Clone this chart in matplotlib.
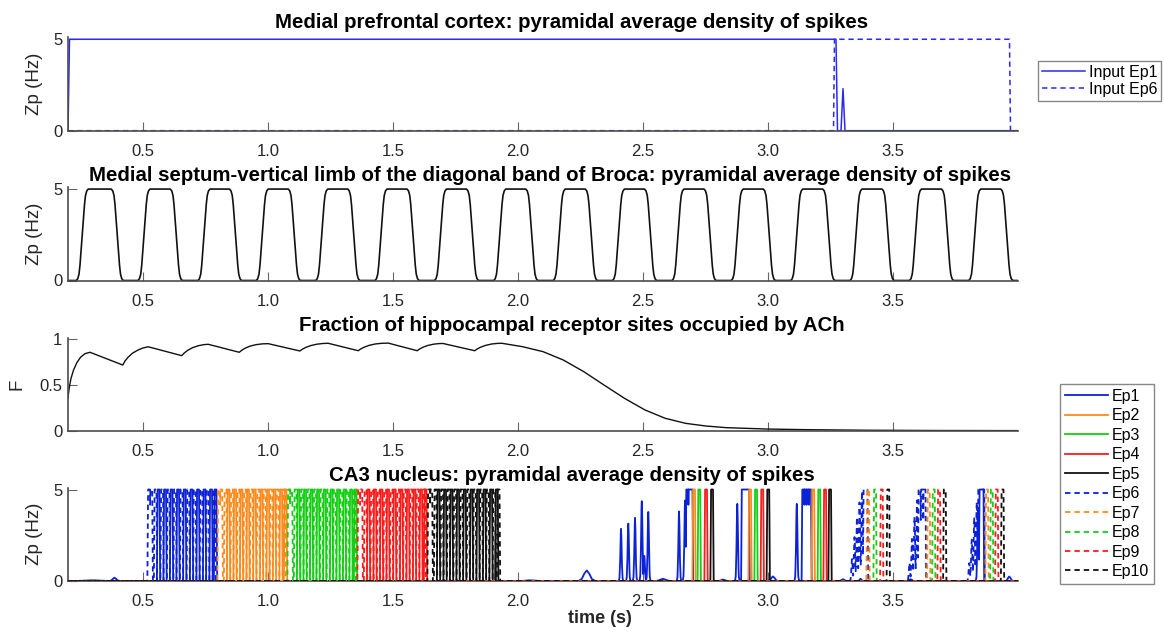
import numpy as np
import matplotlib
matplotlib.use("Agg")
import matplotlib.pyplot as plt

plt.rcParams['font.family'] = ['Liberation Sans', 'DejaVu Sans']

# ------------------------------------------------------------------ data
XLIM = (0.2, 4.0)
XTICKS = [0.5, 1.0, 1.5, 2.0, 2.5, 3.0, 3.5]
XTICKLABELS = ['0.5', '1.0', '1.5', '2.0', '2.5', '3.0', '3.5']

TITLES = [
    'Medial prefrontal cortex: pyramidal average density of spikes',
    'Medial septum-vertical limb of the diagonal band of Broca: pyramidal average density of spikes',
    'Fraction of hippocampal receptor sites occupied by ACh',
    'CA3 nucleus: pyramidal average density of spikes',
]

# panel 1 : mPFC input
input_ep1_t = [0.200, 0.206, 3.272, 3.278, 3.292, 3.300, 3.308, 4.000]
input_ep1_z = [0.0, 5.0, 5.0, 0.0, 0.0, 2.3, 0.0, 0.0]
input_ep6_t = [0.200, 3.262, 3.266, 3.966, 3.970, 4.000]
input_ep6_z = [0.0, 0.0, 5.0, 5.0, 0.0, 0.0]

# panel 2 : septum pulses (rise / fall times, amplitude)
septum_rise = [0.257, 0.504, 0.744, 0.977, 1.215, 1.452, 1.690, 1.927,
               2.165, 2.402, 2.640, 2.877, 3.115, 3.352, 3.590, 3.827]
septum_fall = [0.397, 0.633, 0.870, 1.105, 1.343, 1.580, 1.818, 2.055,
               2.293, 2.530, 2.768, 3.005, 3.243, 3.480, 3.718, 3.955]
septum_amp = 5.0

# panel 3 : ACh occupancy
ach_t = [0.200, 0.205, 0.212, 0.222, 0.235, 0.250, 0.268, 0.288,
         0.419, 0.428, 0.440, 0.458, 0.480, 0.500, 0.521,
         0.655, 0.664, 0.678, 0.698, 0.722, 0.745, 0.761,
         0.885, 0.894, 0.908, 0.928, 0.952, 0.978, 1.001,
         1.128, 1.137, 1.151, 1.171, 1.195, 1.220, 1.241,
         1.361, 1.370, 1.384, 1.404, 1.428, 1.455, 1.481,
         1.597, 1.606, 1.620, 1.640, 1.664, 1.685, 1.700,
         1.827, 1.836, 1.850, 1.870, 1.894, 1.918, 1.936,
         2.018, 2.100, 2.181, 2.263, 2.344, 2.426, 2.508, 2.589, 2.671,
         2.752, 2.834, 2.997, 3.161, 3.400, 3.700, 4.000]
ach_f = [0.36, 0.47, 0.57, 0.66, 0.74, 0.80, 0.84, 0.855,
         0.716, 0.76, 0.80, 0.845, 0.88, 0.902, 0.915,
         0.818, 0.845, 0.875, 0.905, 0.927, 0.939, 0.942,
         0.855, 0.875, 0.899, 0.922, 0.938, 0.947, 0.949,
         0.869, 0.888, 0.908, 0.928, 0.943, 0.951, 0.953,
         0.872, 0.890, 0.910, 0.930, 0.945, 0.953, 0.955,
         0.872, 0.890, 0.910, 0.930, 0.944, 0.950, 0.951,
         0.872, 0.890, 0.910, 0.930, 0.945, 0.952, 0.953,
         0.916, 0.862, 0.771, 0.644, 0.498, 0.353, 0.226, 0.135, 0.080,
         0.051, 0.033, 0.018, 0.011, 0.005, 0.002, 0.001]

# panel 4 : CA3 spike trains, one list of spike times / heights per episode
ep_labels = ['Ep1', 'Ep2', 'Ep3', 'Ep4', 'Ep5', 'Ep6', 'Ep7', 'Ep8', 'Ep9', 'Ep10']
ep_colors = ['#0b22d6', '#ff8a1c', '#13cf13', '#ff1a1a', '#111111',
             '#0b22d6', '#ff8a1c', '#13cf13', '#ff1a1a', '#111111']
ep_dashed = [False] * 5 + [True] * 5

ep1_t = [0.562, 0.588, 0.614, 0.640, 0.667, 0.694, 0.720, 0.746, 0.772, 0.790,
         2.412, 2.441, 2.468, 2.495, 2.505, 2.521,
         2.644, 2.668, 2.677, 2.686, 2.694,
         2.877, 2.899, 2.906, 2.913, 2.920,
         3.115, 3.141, 3.150, 3.159, 3.168,
         3.840, 3.850, 3.858]
ep1_h = [5, 5, 5, 5, 5, 5, 5, 5, 5, 5,
         2.85, 3.2, 3.45, 4.45, 1.4, 3.85,
         3.8, 4.4, 5, 5, 5,
         4.3, 5, 5, 5, 5,
         4.3, 5, 5, 5, 5,
         4.0, 5, 5]
ep1_bump_t = [0.30, 0.386, 2.05, 2.275, 2.58, 2.82, 3.02, 3.30, 3.37, 3.57, 3.965]
ep1_bump_h = [0.04, 0.18, 0.04, 0.58, 0.12, 0.08, 0.25, 0.10, 0.12, 0.10, 0.25]
ep1_bump_w = [0.08, 0.02, 0.05, 0.033, 0.03, 0.02, 0.02, 0.015, 0.01, 0.015, 0.015]

ep2_t = [0.842, 0.868, 0.894, 0.920, 0.947, 0.974, 1.000, 1.026, 1.052, 1.070,
         2.704, 2.928, 3.181]
ep3_t = [1.122, 1.148, 1.174, 1.200, 1.227, 1.254, 1.280, 1.306, 1.332, 1.350,
         2.725, 2.952, 3.205]
ep4_t = [1.402, 1.428, 1.454, 1.480, 1.507, 1.534, 1.560, 1.586, 1.612, 1.630,
         2.752, 2.977, 3.228]
ep5_t = [1.682, 1.708, 1.734, 1.760, 1.787, 1.814, 1.840, 1.866, 1.892, 1.915,
         2.776, 3.001, 3.248]

ep6_t = [0.524, 0.533, 0.550, 0.576, 0.602, 0.628, 0.654, 0.681, 0.707, 0.733, 0.759, 0.785,
         3.336, 3.346, 3.356, 3.366, 3.376, 3.386, 3.394,
         3.566, 3.576, 3.586, 3.596, 3.606, 3.616, 3.626,
         3.805, 3.815, 3.825, 3.835, 3.845, 3.853, 3.861]
ep6_h = [5] * 12 + [1.2, 2.4, 3.5, 4.3, 4.9, 5, 5,
                    1.0, 2.3, 3.5, 4.4, 5, 5, 5,
                    1.0, 2.3, 3.5, 4.4, 5, 5, 5]
ep7_t = [0.804, 0.813, 0.830, 0.856, 0.882, 0.908, 0.934, 0.961, 0.987, 1.013, 1.039, 1.065,
         3.400, 3.643, 3.876]
ep8_t = [1.084, 1.093, 1.110, 1.136, 1.162, 1.188, 1.214, 1.241, 1.267, 1.293, 1.319, 1.345,
         3.428, 3.663, 3.895]
ep9_t = [1.364, 1.373, 1.390, 1.416, 1.442, 1.468, 1.494, 1.521, 1.547, 1.573, 1.599, 1.625,
         3.455, 3.684, 3.915]
ep10_t = [1.644, 1.653, 1.670, 1.696, 1.722, 1.748, 1.774, 1.801, 1.827, 1.853, 1.879, 1.905, 1.922,
          3.481, 3.707, 3.938]

# ------------------------------------------------------------------ helpers (shape templates only)
GRID = np.linspace(XLIM[0], XLIM[1], 9501)
RECT_OFF = np.array([-0.0065, -0.0052, -0.0040, 0.0040, 0.0052, 0.0065])
RECT_FRAC = np.array([0.0, 0.5, 1.0, 1.0, 0.5, 0.0])
PEAK_OFF = np.array([-0.009, -0.006, -0.0035, -0.0015, 0.0, 0.0015, 0.0035, 0.006, 0.009])
PEAK_FRAC = np.array([0.0, 0.06, 0.35, 0.85, 1.0, 0.85, 0.35, 0.06, 0.0])
BUMP_OFF = np.array([-1.0, -0.6, -0.3, 0.0, 0.3, 0.6, 1.0])
BUMP_FRAC = np.array([0.0, 0.2, 0.7, 1.0, 0.7, 0.2, 0.0])
EDGE_OFF = np.array([-0.024, -0.018, -0.013, -0.009, -0.005, 0.0, 0.005, 0.009, 0.013, 0.018, 0.024])
EDGE_FRAC = np.array([0.0, 0.02, 0.07, 0.17, 0.32, 0.5, 0.68, 0.83, 0.93, 0.98, 1.0])


def spike_train(times, heights=None, bumps=None):
    z = np.zeros_like(GRID)
    if heights is None:
        heights = [5.0] * len(times)
    for t, h in zip(times, heights):
        if h >= 5:
            shape = np.interp(GRID, t + RECT_OFF, RECT_FRAC, left=0, right=0) * h
        else:
            shape = np.interp(GRID, t + PEAK_OFF, PEAK_FRAC, left=0, right=0) * h
        z = np.maximum(z, shape)
    if bumps is not None:
        for t, h, w in zip(*bumps):
            z = np.maximum(z, np.interp(GRID, t + w * BUMP_OFF, BUMP_FRAC, left=0, right=0) * h)
    return z


def septum_curve(rises, falls, amp):
    ts, zs = [XLIM[0]], [0.0]
    for r, f in zip(rises, falls):
        ts += list(r + EDGE_OFF) + list(f + EDGE_OFF)
        zs += list(amp * EDGE_FRAC) + list(amp * (1 - EDGE_FRAC))
    ts.append(XLIM[1]); zs.append(0.0)
    return np.array(ts), np.array(zs)


# ------------------------------------------------------------------ figure
W, H = 1164, 632
fig = plt.figure(figsize=(W / 100, H / 100), dpi=100)
AXCOL = '#4d4d4d'
TXTCOL = '#262626'


def make_axes(top_px, bot_px):
    return fig.add_axes([68 / W, 1 - bot_px / H, (1018 - 68) / W, (bot_px - top_px) / H])


def style(ax, yticks, yticklabels, ylim, ylabel, ylabel_x, title, title_x, title_pad):
    ax.set_xlim(*XLIM)
    ax.set_ylim(*ylim)
    for s in ('top', 'right'):
        ax.spines[s].set_visible(False)
    for s in ('left', 'bottom'):
        ax.spines[s].set_color(AXCOL)
        ax.spines[s].set_linewidth(1.2)
    ax.set_xticks(XTICKS)
    ax.set_xticklabels(XTICKLABELS)
    ax.set_yticks(yticks)
    ax.set_yticklabels(yticklabels)
    ax.tick_params(direction='in', length=6.5, width=0.8, color='#666666',
                   labelsize=12, labelcolor=TXTCOL)
    ax.tick_params(axis='x', pad=9.5)
    ax.tick_params(axis='y', pad=4)
    ax.set_ylabel(ylabel, fontsize=13.5, color=TXTCOL)
    ax.yaxis.set_label_coords(ylabel_x, 0.5)
    ax.set_title(title, fontsize=14.7, fontweight='bold', x=title_x, pad=title_pad)


ax1 = make_axes(36.7, 130.7)
ax2 = make_axes(186.5, 280.5)
ax3 = make_axes(337.7, 430.7)
ax4 = make_axes(487.5, 581.0)

# panel 1
l1, = ax1.plot(input_ep1_t, input_ep1_z, color='#2a2af0', lw=1.1, label='Input Ep1', zorder=2)
l6, = ax1.plot(input_ep6_t, input_ep6_z, color='#2a2af0', lw=1.1, ls=(0, (3.5, 2.5)),
               label='Input Ep6', zorder=1)
style(ax1, [0, 5], ['0', '5'], (0, 5.14), 'Zp (Hz)', -0.026, TITLES[0], 0.53, 6)

# panel 2
st, sz = septum_curve(septum_rise, septum_fall, septum_amp)
ax2.plot(st, sz, color='#111111', lw=1.2)
style(ax2, [0, 5], ['0', '5'], (0, 5.14), 'Zp (Hz)', -0.026, TITLES[1], 0.507, 4)

# panel 3
ax3.plot(ach_t, ach_f, color='#111111', lw=1.0)
style(ax3, [0, 0.5, 1], ['0', '0.5', '1'], (0, 1.014), 'F', -0.045, TITLES[2], 0.53, 5)

# panel 4
ep_series = [
    spike_train(ep1_t, ep1_h, (ep1_bump_t, ep1_bump_h, ep1_bump_w)),
    spike_train(ep2_t), spike_train(ep3_t), spike_train(ep4_t), spike_train(ep5_t),
    spike_train(ep6_t, ep6_h),
    spike_train(ep7_t), spike_train(ep8_t), spike_train(ep9_t), spike_train(ep10_t),
]
handles = []
for z, lab, col, dsh in zip(ep_series, ep_labels, ep_colors, ep_dashed):
    ls = (0, (3, 2.2)) if dsh else '-'
    h, = ax4.plot(GRID, z, color=col, lw=1.3, ls=ls, label=lab, zorder=3)
    handles.append(h)
style(ax4, [0, 5], ['0', '5'], (0, 5.11), 'Zp (Hz)', -0.026, TITLES[3], 0.53, 5)
ax4.set_xlabel('time (s)', fontsize=13, fontweight='bold', color=TXTCOL)
ax4.xaxis.set_label_coords(0.56, -0.31)
ax4.xaxis.label.set_verticalalignment('top')

# legends
leg1 = fig.legend([l1, l6], ['Input Ep1', 'Input Ep6'], loc='upper left',
                  bbox_to_anchor=(1037.7 / W, 1 - 60.7 / H), bbox_transform=fig.transFigure,
                  fontsize=11.5, frameon=True, fancybox=False, edgecolor='#888888',
                  framealpha=1, borderpad=0.25, handlelength=2.7, handletextpad=0.25,
                  labelspacing=0.12, borderaxespad=0)
leg1.get_frame().set_linewidth(1.0)

leg4 = fig.legend(handles, ep_labels, loc='upper left',
                  bbox_to_anchor=(1060 / W, 1 - 384 / H), bbox_transform=fig.transFigure,
                  fontsize=11.5, frameon=True, fancybox=False, edgecolor='#888888',
                  framealpha=1, borderpad=0.3, handlelength=2.7, handletextpad=0.25,
                  labelspacing=0.28, borderaxespad=0)
leg4.get_frame().set_linewidth(1.0)

fig.savefig('out.png', dpi=100)
